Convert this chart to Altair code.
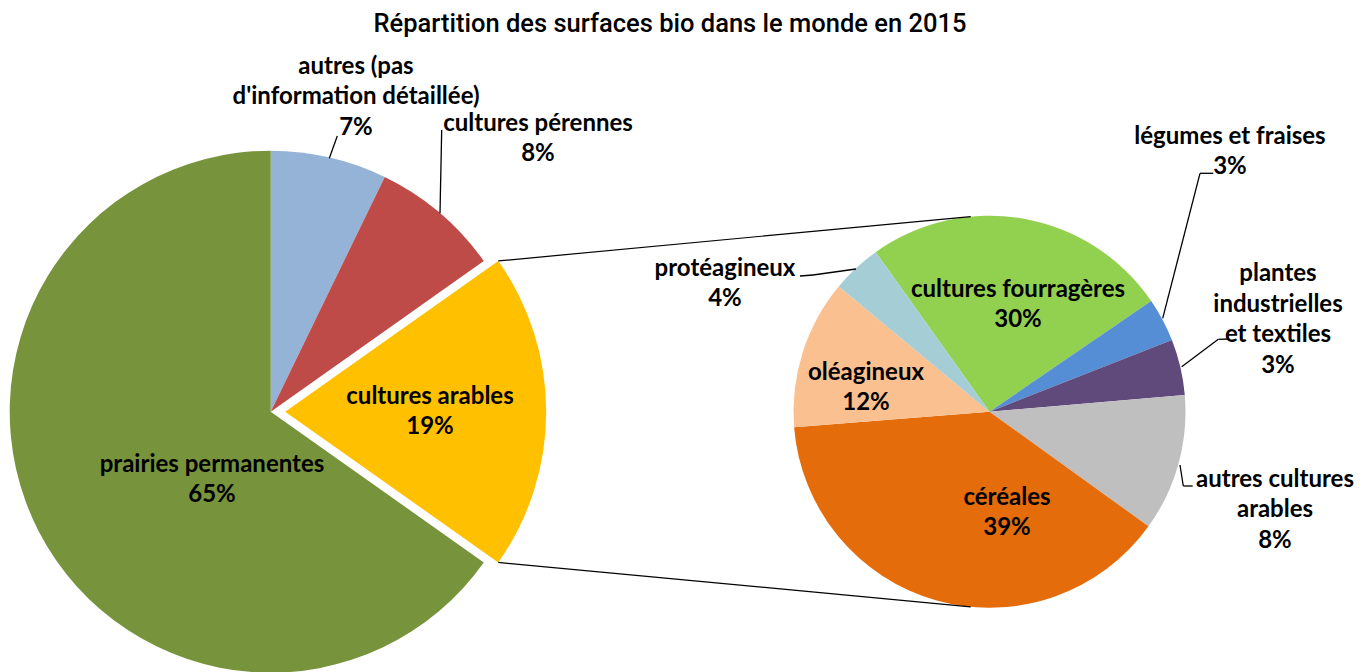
import math
import altair as alt
import pandas as pd

# ---------------- data ----------------
title_text = "Répartition des surfaces bio dans le monde en 2015"

main_names = ["autres (pas d'information détaillée)", "cultures pérennes",
              "cultures arables", "prairies permanentes"]
main_values = [7.2, 8.0, 19.6, 65.2]
main_labels = ["autres (pas\nd'information détaillée)\n7%", "cultures pérennes\n8%",
               "cultures arables\n19%", "prairies permanentes\n65%"]
main_colors = ["#95B3D7", "#BE4B48", "#FFC000", "#77933C"]

sub_names = ["cultures fourragères", "légumes et fraises", "plantes industrielles et textiles",
             "autres cultures arables", "céréales", "oléagineux", "protéagineux"]
sub_values = [25.3, 3.6, 4.6, 11.3, 38.8, 12.3, 4.1]
sub_labels = ["cultures fourragères\n30%", "légumes et fraises\n3%",
              "plantes\nindustrielles\net textiles\n3%", "autres cultures\narables\n8%",
              "céréales\n39%", "oléagineux\n12%", "protéagineux\n4%"]
sub_colors = ["#92D050", "#558ED5", "#604A7B", "#BFBFBF", "#E46C0A", "#FAC090", "#A5CDD5"]

exploded_name = "cultures arables"

# ---------------- layout (pixels) ----------------
W, H = 1354, 664
OFF = 8
MAIN_CX, MAIN_CY, MAIN_R = 270.7 - OFF, 411.7 - OFF, 261
EXPLODE = 14.5
SUB_CX, SUB_CY, SUB_R = 989.5 - OFF, 411.7 - OFF, 196
SUB_START_DEG = -35.5
LINK_DEG = 5.5
FONT = "Lato"
FS = 24
LH = 30.5

label_pos = {  # block centres, page coordinates
    main_labels[0]: (356, 97),
    main_labels[1]: (538, 139),
    main_labels[2]: (430, 412),
    main_labels[3]: (212, 480),
    sub_labels[0]: (1018, 305),
    sub_labels[1]: (1230, 152),
    sub_labels[2]: (1278, 320),
    sub_labels[3]: (1275, 510),
    sub_labels[4]: (1007, 513),
    sub_labels[5]: (866, 388),
    sub_labels[6]: (725, 284),
}
leaders = [  # polylines, page coordinates
    [(337.3, 136), (329.3, 158.3)],
    [(441.7, 130), (440, 213.3)],
    [(800, 276), (813, 275), (856, 269)],
    [(1213.3, 173.3), (1200, 173.3), (1162.7, 318.3)],
    [(1228, 339), (1218.3, 339.3), (1181.7, 366.7)],
    [(1180, 465), (1183.3, 486), (1192.7, 486)],
]

# ---------------- geometry derived from data ----------------
total_main = sum(main_values)
k = main_names.index(exploded_name)
a0 = sum(main_values[:k]) / total_main * 2 * math.pi
a1 = sum(main_values[:k + 1]) / total_main * 2 * math.pi
amid = (a0 + a1) / 2
EX_CX = MAIN_CX + EXPLODE * math.sin(amid)
EX_CY = MAIN_CY - EXPLODE * math.cos(amid)


def pt(cx, cy, r, a):
    return cx + r * math.sin(a), cy - r * math.cos(a)


link_start_top = pt(EX_CX, EX_CY, MAIN_R, a0)
link_start_bot = pt(EX_CX, EX_CY, MAIN_R, a1)
link_end_top = pt(SUB_CX, SUB_CY, SUB_R, math.radians(-LINK_DEG))
link_end_bot = pt(SUB_CX, SUB_CY, SUB_R, math.radians(180 + LINK_DEG))

# ---------------- charts ----------------
main_df = pd.DataFrame({"name": main_names, "value": main_values, "idx": list(range(len(main_names)))})
sub_df = pd.DataFrame({"name": sub_names, "value": sub_values, "idx": list(range(len(sub_names)))})

main_theta = alt.Theta("value:Q", stack=True, scale=alt.Scale(range=[0, 2 * math.pi]))
main_color = alt.Color("name:N", scale=alt.Scale(domain=main_names, range=main_colors), legend=None)

main_pie = alt.Chart(main_df).mark_arc(radius=MAIN_R).encode(
    theta=main_theta, color=main_color, order=alt.Order("idx:Q"),
    x=alt.value(MAIN_CX), y=alt.value(MAIN_CY),
    opacity=alt.condition(alt.datum.name == exploded_name, alt.value(0), alt.value(1)),
)
main_ex = alt.Chart(main_df).mark_arc(radius=MAIN_R).encode(
    theta=main_theta, color=main_color, order=alt.Order("idx:Q"),
    x=alt.value(EX_CX), y=alt.value(EX_CY),
    opacity=alt.condition(alt.datum.name == exploded_name, alt.value(1), alt.value(0)),
)

s0 = math.radians(SUB_START_DEG) + 2 * math.pi
sub_pie = alt.Chart(sub_df).mark_arc(radius=SUB_R).encode(
    theta=alt.Theta("value:Q", stack=True, scale=alt.Scale(range=[s0, s0 + 2 * math.pi])),
    color=alt.Color("name:N", scale=alt.Scale(domain=sub_names, range=sub_colors), legend=None),
    order=alt.Order("idx:Q"),
    x=alt.value(SUB_CX), y=alt.value(SUB_CY),
)

one = pd.DataFrame({"a": [0]})


def seg(p, q, width=1.3):
    return alt.Chart(one).mark_rule(color="black", strokeWidth=width).encode(
        x=alt.value(p[0]), y=alt.value(p[1]), x2=alt.value(q[0]), y2=alt.value(q[1]))


layers = [main_pie, main_ex, sub_pie,
          seg(link_start_top, link_end_top, 1.2), seg(link_start_bot, link_end_bot, 1.2)]

for poly in leaders:
    for p, q in zip(poly[:-1], poly[1:]):
        layers.append(seg((p[0] - OFF, p[1] - OFF), (q[0] - OFF, q[1] - OFF)))

for txt, (px, py) in label_pos.items():
    n = txt.count("\n") + 1
    y_first = py - (n - 1) * LH / 2
    layers.append(alt.Chart(one).mark_text(
        font=FONT, fontSize=FS, fontWeight="bold", color="black", align="center",
        baseline="middle", lineBreak="\n", lineHeight=LH,
    ).encode(x=alt.value(px - OFF), y=alt.value(y_first - OFF), text=alt.value(txt)))

layers.append(alt.Chart(one).mark_text(
    font="Roboto", fontSize=25.5, fontWeight=500, color="black", align="center",
    baseline="alphabetic",
).encode(x=alt.value(670 - OFF), y=alt.value(32 - OFF), text=alt.value(title_text)))

chart = alt.layer(*layers).resolve_scale(theta="independent", color="independent").properties(
    width=W, height=H, autosize=alt.AutoSizeParams(type="none"), padding=0,
).configure_view(stroke=None)

chart.save("out.html", embed_options={"renderer": "svg", "actions": False})
